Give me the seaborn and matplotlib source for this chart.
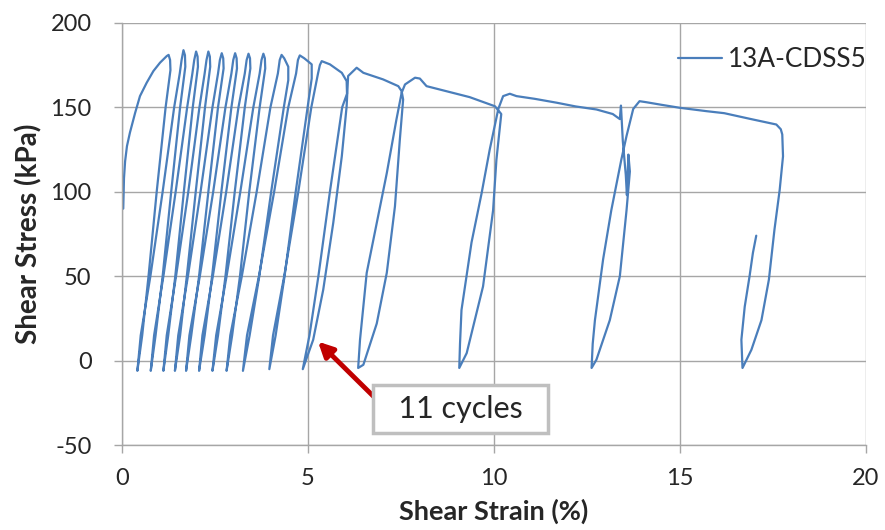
import pandas as pd
import seaborn as sns
import matplotlib.pyplot as plt

# first loading branch
load_strain = [0.03, 0.05, 0.08, 0.13, 0.21, 0.35, 0.48, 0.66, 0.84, 1.02, 1.20, 1.25]
load_stress = [90, 108, 118, 127, 135, 146.7, 156.6, 164.5, 171.4, 176.4, 180.3, 181]

# each cycle: unload from the top down to the trough, then reload to the next peak
cyc01_strain = [1.29, 1.30, 1.17, 0.93, 0.71, 0.54, 0.41, 0.50, 0.76, 1.09, 1.40, 1.55, 1.60, 1.65]
cyc01_stress = [178, 172, 150, 100, 50, 15, -6, 15, 50, 100, 150, 170, 178, 183.8]
cyc02_strain = [1.69, 1.70, 1.56, 1.32, 1.09, 0.90, 0.77, 0.86, 1.11, 1.44, 1.75, 1.89, 1.94, 1.99]
cyc02_stress = [180.8, 174, 150, 100, 50, 15, -6, 15, 50, 100, 150, 170, 178, 183]
cyc03_strain = [2.03, 2.04, 1.90, 1.66, 1.43, 1.24, 1.11, 1.20, 1.45, 1.78, 2.08, 2.22, 2.27, 2.32]
cyc03_stress = [180, 174, 150, 100, 50, 15, -6, 15, 50, 100, 150, 170, 178, 183]
cyc04_strain = [2.36, 2.37, 2.23, 1.98, 1.74, 1.56, 1.42, 1.51, 1.77, 2.11, 2.43, 2.58, 2.63, 2.68]
cyc04_stress = [180, 174, 150, 100, 50, 15, -6, 15, 50, 100, 150, 170, 178, 182]
cyc05_strain = [2.72, 2.73, 2.58, 2.32, 2.07, 1.86, 1.72, 1.81, 2.09, 2.45, 2.78, 2.94, 2.99, 3.04]
cyc05_stress = [179, 173, 150, 100, 50, 15, -6, 15, 50, 100, 150, 170, 178, 182]
cyc06_strain = [3.08, 3.09, 2.94, 2.67, 2.42, 2.22, 2.07, 2.16, 2.44, 2.80, 3.13, 3.30, 3.35, 3.40]
cyc06_stress = [179, 173, 150, 100, 50, 15, -6, 15, 50, 100, 150, 170, 178, 181.7]
cyc07_strain = [3.44, 3.45, 3.30, 3.03, 2.78, 2.58, 2.43, 2.53, 2.81, 3.18, 3.53, 3.70, 3.75, 3.80]
cyc07_stress = [179, 173, 150, 100, 50, 15, -6, 15, 50, 100, 150, 170, 178, 181.7]
cyc08_strain = [3.84, 3.85, 3.70, 3.42, 3.17, 2.96, 2.81, 2.91, 3.22, 3.62, 3.99, 4.19, 4.24, 4.29]
cyc08_stress = [179, 173, 150, 100, 50, 15, -6, 15, 50, 100, 150, 170, 178, 181]
cyc09_strain = [4.36, 4.47, 4.47, 4.35, 4.01, 3.69, 3.43, 3.25, 3.36, 3.68, 4.09, 4.47, 4.68, 4.73, 4.78]
cyc09_stress = [179, 174, 166, 150, 100, 50, 15, -6, 15, 50, 100, 150, 170, 178, 180.7]
cyc10_strain = [4.90, 5.10, 5.10, 4.99, 4.67, 4.37, 4.13, 3.96, 4.06, 4.36, 4.74, 5.09, 5.27, 5.32, 5.37]
cyc10_stress = [179, 175.4, 167, 150, 100, 50, 15, -5, 15, 50, 100, 150, 170, 175, 177.3]
cyc11_strain = [5.59, 5.91, 6.04, 6.05, 5.92, 5.59, 5.28, 5.04, 4.86, 5.14, 5.41, 5.68, 5.91, 6.04, 6.08, 6.31]
cyc11_stress = [175.4, 170.4, 165.5, 158, 150, 100, 50, 15, -5, 12.4, 42, 81.6, 121, 150.6, 168.5, 173.4]
cyc12_strain = [6.49, 7.02, 7.43, 7.52, 7.56, 7.47, 7.34, 7.12, 6.85, 6.49, 6.35,
                6.40, 6.58, 6.85, 7.12, 7.38, 7.52, 7.61, 7.88]
cyc12_stress = [170.4, 166.5, 162.5, 159.5, 154.6, 130.5, 91.4, 52, 22, -2.4, -4.3,
                12.4, 52, 81.6, 111, 142.8, 158.6, 163.5, 167.5]
cyc13_strain = [8.01, 8.19, 8.73, 9.35, 10.03, 10.20, 10.07, 9.98, 9.71, 9.27, 9.07,
                9.09, 9.13, 9.40, 9.67, 9.89, 10.12, 10.25, 10.43]
cyc13_stress = [167, 162.5, 159.5, 156, 150.6, 146, 119, 89, 44, 4.5, -4.3,
                10, 30, 70, 99, 125, 149, 156.6, 158]
cyc14_strain = [10.61, 11.10, 11.69, 12.20, 12.76, 13.20, 13.39, 13.42, 13.47, 13.55, 13.58, 13.62, 13.66,
                13.57, 13.39, 13.12, 12.76, 12.63, 12.66, 12.72, 12.94, 13.16, 13.43, 13.57, 13.75, 13.92]
cyc14_stress = [156.6, 155, 152.7, 150.5, 148.7, 146, 143, 151, 130, 110, 98, 122, 112,
                89, 50, 24, 0.6, -4.3, 10, 24, 60, 89, 119, 133, 149, 153.6]
cyc15_strain = [14.10, 14.50, 15.00, 15.72, 16.20, 16.88, 17.60, 17.72, 17.76, 17.78, 17.69, 17.55, 17.40,
                17.20, 16.93, 16.69, 16.66, 16.75, 16.88, 16.97, 17.06]
cyc15_stress = [153, 151.5, 149.7, 147.7, 146.5, 143.2, 139.8, 137, 133.9, 121, 101, 77.6, 48,
                24, 6.5, -4.3, 12.4, 32, 50, 63.8, 74]

x_ticks = [0, 5, 10, 15, 20]
y_ticks = [-50, 0, 50, 100, 150, 200]

strain = (load_strain + cyc01_strain + cyc02_strain + cyc03_strain + cyc04_strain + cyc05_strain
          + cyc06_strain + cyc07_strain + cyc08_strain + cyc09_strain + cyc10_strain + cyc11_strain
          + cyc12_strain + cyc13_strain + cyc14_strain + cyc15_strain)
stress = (load_stress + cyc01_stress + cyc02_stress + cyc03_stress + cyc04_stress + cyc05_stress
          + cyc06_stress + cyc07_stress + cyc08_stress + cyc09_stress + cyc10_stress + cyc11_stress
          + cyc12_stress + cyc13_stress + cyc14_stress + cyc15_stress)
df = pd.DataFrame({"strain": strain, "stress": stress})

sns.set_style("white")
plt.rcParams["font.family"] = ["Lato", "DejaVu Sans"]
plt.rcParams["axes.unicode_minus"] = False

fig, ax = plt.subplots(figsize=(8.85, 5.30), dpi=100)
fig.subplots_adjust(left=0.138, right=0.978, bottom=0.160, top=0.957)

sns.lineplot(data=df, x="strain", y="stress", sort=False, estimator=None,
             color="#4a7ebb", linewidth=1.6, label="13A-CDSS5", ax=ax)

ax.set_xlim(0, 20)
ax.set_ylim(-50, 200)
ax.set_xticks(x_ticks)
ax.set_yticks(y_ticks)
ax.grid(True, color="#a6a6a6", linewidth=1)
for s in ["top", "right"]:
    ax.spines[s].set_visible(False)
for s in ["left", "bottom"]:
    ax.spines[s].set_color("#a6a6a6")
    ax.spines[s].set_linewidth(1)
ax.tick_params(axis="both", left=True, bottom=True, direction="out", length=6, width=1,
               color="#a6a6a6", labelsize=17)
ax.tick_params(axis="y", pad=16)
ax.tick_params(axis="x", pad=10.5)

ax.set_xlabel("Shear Strain (%)", fontsize=19.5, fontweight="bold", labelpad=7)
ax.set_ylabel("Shear Stress (kPa)", fontsize=20, fontweight="bold", labelpad=6)

ax.legend(loc="center left", bbox_to_anchor=(0.766, 0.887), bbox_transform=fig.transFigure,
          frameon=False, fontsize=18.8, handlelength=1.7, handletextpad=0.23,
          borderpad=0, borderaxespad=0)

ax.annotate("", xy=(5.27, 11.3), xytext=(6.80, -21.9),
            arrowprops=dict(arrowstyle="-|>", color="#c00000", lw=3.5, mutation_scale=22,
                            shrinkA=0, shrinkB=0))
ax.text(9.10, -28.4, "  11 cycles  ", ha="center", va="center", fontsize=22,
        bbox=dict(boxstyle="square,pad=0.33", fc="white", ec="#bfbfbf", lw=2.5))

fig.savefig("out.png", dpi=100)
